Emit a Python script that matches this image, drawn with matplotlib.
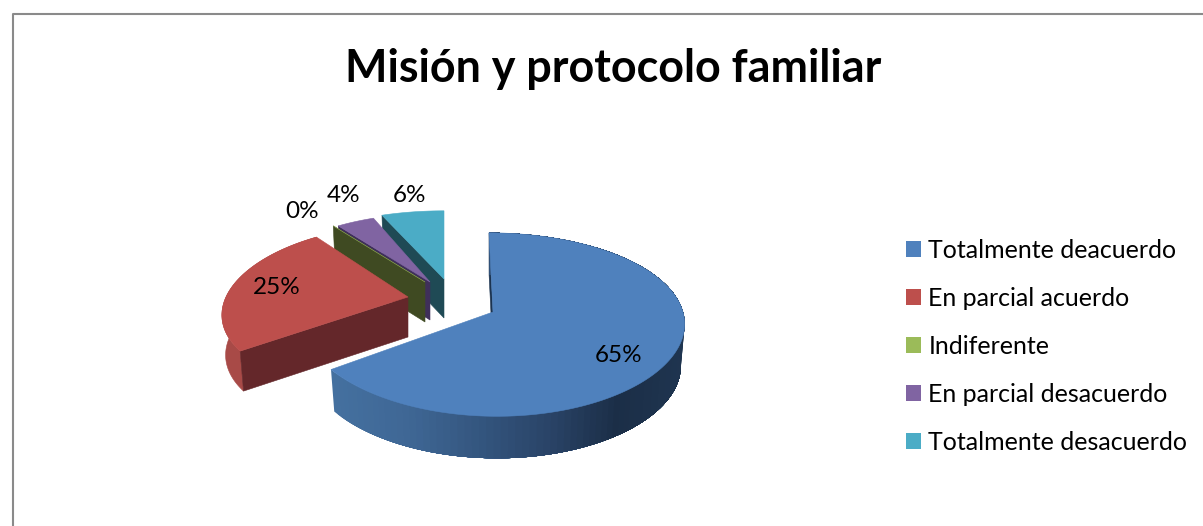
import numpy as np
import matplotlib
matplotlib.use('Agg')
import matplotlib.pyplot as plt
from matplotlib.colors import LinearSegmentedColormap
from matplotlib.patches import Patch, Polygon

plt.rcParams['font.family'] = ['Lato', 'DejaVu Sans']

# datos
titulo = 'Misión y protocolo familiar'
categorias = ['Totalmente deacuerdo', 'En parcial acuerdo', 'Indiferente',
              'En parcial desacuerdo', 'Totalmente desacuerdo']
valores = [65, 25, 0, 4, 6]

# colores
col_top = ['#4f81bd', '#bd4f4c', '#9bbb59', '#8064a2', '#4bacc6']
col_wall = ['#1f3550', '#64272a', '#3f4a22', '#3f2f5a', '#1f4a55']
col_arc = ['#1f3550', '#a84a47', '#3f4a22', '#3f2f5a', '#2f7f94']
cmap_azul = LinearSegmentedColormap.from_list(
    'azul', ['#44709f', '#3f6795', '#34567f', '#2a4468', '#1b2e47', '#1f3550'])

# geometria de cada porcion en pixeles: vertice, radio, perspectiva, grosor
vertice = [(493, 312), (408, 297), (425, 282), (430, 282), (444, 279)]
radio_x = [190, 182, 175, 175, 192]
radio_y = [90, 83.5, 75, 75, 75]
k_x = [0.11, 0.209, 0.15, 0.15, 0.15]
k_y = [0.137, 0.158, 0.10, 0.10, 0.10]
sesgo = [4, 0, 0, 0, 0]
grosor = [42, 40, 40, 38, 39]


def proyecta(i, ang, r=1.0, abajo=False):
    """angulo en grados desde las 12, en sentido horario -> pixel"""
    t = np.radians(ang)
    u = r * np.sin(t)
    v = -r * np.cos(t)
    x = radio_x[i] * u / (1 - k_x[i] * v) + sesgo[i] * v
    y = radio_y[i] * v / (1 - k_y[i] * v)
    if abajo:
        return vertice[i][0] + x * 0.98, vertice[i][1] + y + grosor[i]
    return vertice[i][0] + x, vertice[i][1] + y


def pared_radial(ax, i, ang, color, z):
    p1 = proyecta(i, ang, 0)
    p2 = proyecta(i, ang, 1)
    p3 = proyecta(i, ang, 1, True)
    p4 = proyecta(i, ang, 0, True)
    ax.add_patch(Polygon([p1, p2, p3, p4], closed=True, fc=color, ec=color, lw=0.4, zorder=z))


def pared_arco(ax, i, a0, a1, z):
    if i != 0:
        angs = np.linspace(a0, a1, 100)
        pts = [proyecta(i, a) for a in angs] + [proyecta(i, a, 1, True) for a in angs[::-1]]
        ax.add_patch(Polygon(pts, closed=True, fc=col_arc[i], ec=col_arc[i], lw=0.4, zorder=z))
        return
    # degradado: cada tramo tapa hasta el final del arco, asi no quedan rendijas
    angs = np.linspace(a1, a0, 120)
    for n in range(len(angs) - 1):
        resto = angs[n:]
        pts = [proyecta(i, a) for a in resto] + [proyecta(i, a, 1, True) for a in resto[::-1]]
        x_ini = proyecta(i, angs[n])[0]
        col = cmap_azul(np.clip((x_ini - 333) / (686 - 333), 0, 1))
        ax.add_patch(Polygon(pts, closed=True, fc=col, ec='none', zorder=z))


def tapa(ax, i, a0, a1, z):
    angs = np.linspace(a0, a1, max(int(a1 - a0) * 2, 2))
    pts = [proyecta(i, a0, 0)] + [proyecta(i, a) for a in angs]
    ax.add_patch(Polygon(pts, closed=True, fc=col_top[i], ec=col_top[i], lw=0.4, zorder=z))


fig = plt.figure(figsize=(12.03, 5.26), dpi=100, facecolor='white')
ax = fig.add_axes([0, 0, 1, 1])
ax.set_xlim(0, 1203)
ax.set_ylim(526, 0)
ax.axis('off')

# marco del grafico
ax.plot([12.5, 12.5, 1203], [526, 14, 14], color='#8a8a8a', lw=1.5)

ax.text(613, 69, titulo, ha='center', va='center', fontsize=32.3, fontweight='bold', color='black')

# porciones
angulos = np.cumsum([0] + valores) * 3.6
orden = [4, 3, 2, 1, 0]  # de atras hacia delante
for n, i in enumerate(orden):
    z = 2 + n * 3
    a0, a1 = angulos[i], angulos[i + 1]
    if i == 0:
        pared_radial(ax, i, a0, '#1b3350', z)
        pared_arco(ax, i, a0, a1, z)
    elif i == 1:
        pared_arco(ax, i, a0, a1, z)
        pared_radial(ax, i, a0, col_wall[i], z + 1)
    else:
        pared_radial(ax, i, a0, col_wall[i], z)
    tapa(ax, i, a0, a1, z + 2)

# etiquetas de porcentaje
pos_etiquetas = [(619, 355), (277, 288), (302, 212), (344, 196), (410, 195)]
for v, (x, y) in zip(valores, pos_etiquetas):
    ax.text(x, y, f'{v}%', ha='center', va='center', fontsize=17.5, color='black', zorder=30)

handles = [Patch(fc=c, ec=c, lw=0) for c in col_top]
ax.legend(handles, categorias, loc='center left', bbox_to_anchor=(906 / 1203, 1 - 346 / 526),
          frameon=False, fontsize=18, handlelength=0.6, handleheight=0.6, handletextpad=0.3,
          labelspacing=1.0, borderpad=0, borderaxespad=0)

fig.savefig('out.png', dpi=100)
